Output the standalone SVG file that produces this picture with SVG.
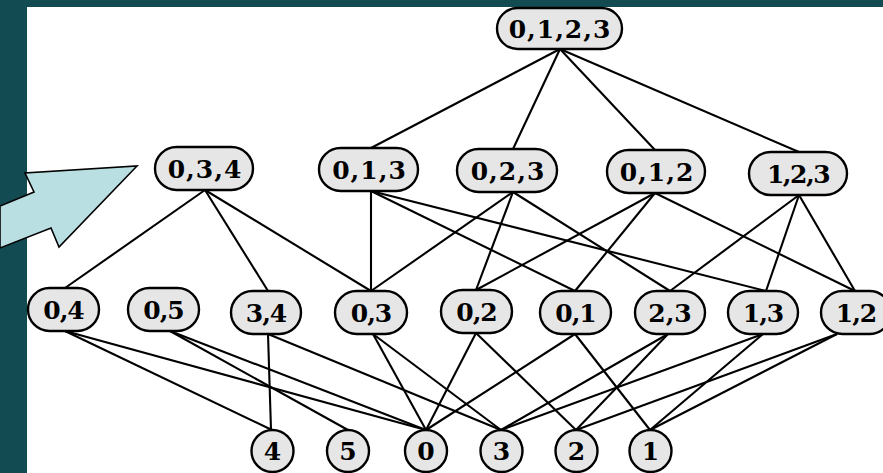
<svg xmlns="http://www.w3.org/2000/svg" width="883" height="473" viewBox="0 0 883 473">
<style>
.bg{fill:#ffffff}
.frame{fill:#134b52}
.arrow{fill:#b9dfe3;stroke:#000;stroke-width:1.6;stroke-linejoin:miter}
.edge{stroke:#000;stroke-width:2.1;fill:none}
.box{fill:#e6e6e6;stroke:#000;stroke-width:2.4}
.lbl{font-family:"DejaVu Serif",serif;font-weight:bold;font-size:25px;fill:#000;text-anchor:middle}
.sp{letter-spacing:1px}
.tight{letter-spacing:-1px}
</style>
<rect class="bg" x="0" y="0" width="883" height="473"/>
<rect class="frame" x="0" y="0" width="883" height="7"/>
<rect class="frame" x="0" y="0" width="27" height="473"/>
<polygon class="arrow" points="0,206 34,192 25,173 137,166 59,247 51,228 0,248"/>
<g id="connectors">
<line class="edge" x1="560" y1="49" x2="371" y2="148"/>
<line class="edge" x1="560" y1="49" x2="513" y2="149"/>
<line class="edge" x1="560" y1="49" x2="655" y2="150"/>
<line class="edge" x1="560" y1="49" x2="799" y2="152"/>
<line class="edge" x1="205" y1="190" x2="65" y2="288"/>
<line class="edge" x1="205" y1="190" x2="268" y2="291"/>
<line class="edge" x1="205" y1="190" x2="371" y2="291"/>
<line class="edge" x1="371" y1="191" x2="371" y2="291"/>
<line class="edge" x1="371" y1="191" x2="575" y2="291"/>
<line class="edge" x1="371" y1="191" x2="766" y2="291"/>
<line class="edge" x1="513" y1="192" x2="371" y2="291"/>
<line class="edge" x1="513" y1="192" x2="476" y2="290"/>
<line class="edge" x1="513" y1="192" x2="670" y2="291"/>
<line class="edge" x1="655" y1="193" x2="476" y2="290"/>
<line class="edge" x1="655" y1="193" x2="575" y2="291"/>
<line class="edge" x1="655" y1="193" x2="855" y2="291"/>
<line class="edge" x1="799" y1="195" x2="670" y2="291"/>
<line class="edge" x1="799" y1="195" x2="766" y2="291"/>
<line class="edge" x1="799" y1="195" x2="855" y2="291"/>
<line class="edge" x1="65" y1="331" x2="272" y2="430"/>
<line class="edge" x1="65" y1="331" x2="426" y2="430"/>
<line class="edge" x1="170" y1="331" x2="348" y2="430"/>
<line class="edge" x1="170" y1="331" x2="426" y2="430"/>
<line class="edge" x1="268" y1="334" x2="271" y2="430"/>
<line class="edge" x1="268" y1="334" x2="501" y2="430"/>
<line class="edge" x1="373" y1="334" x2="426" y2="430"/>
<line class="edge" x1="373" y1="334" x2="501" y2="430"/>
<line class="edge" x1="476" y1="333" x2="426" y2="430"/>
<line class="edge" x1="476" y1="333" x2="576" y2="430"/>
<line class="edge" x1="575" y1="334" x2="426" y2="430"/>
<line class="edge" x1="575" y1="334" x2="650" y2="430"/>
<line class="edge" x1="668" y1="334" x2="501" y2="430"/>
<line class="edge" x1="668" y1="334" x2="576" y2="430"/>
<line class="edge" x1="763" y1="334" x2="501" y2="430"/>
<line class="edge" x1="763" y1="334" x2="650" y2="430"/>
<line class="edge" x1="837" y1="334" x2="576" y2="430"/>
<line class="edge" x1="837" y1="334" x2="650" y2="430"/>
</g>
<g id="n0123"><rect class="box" x="497" y="8" width="125" height="41" rx="20.5"/><text class="lbl sp" x="560" y="38">0,1,2,3</text></g>
<g id="n034"><rect class="box" x="155" y="147" width="98" height="43" rx="21.5"/><text class="lbl sp" x="205" y="177.5">0,3,4</text></g>
<g id="n013"><rect class="box" x="319" y="148" width="99" height="43" rx="21.5"/><text class="lbl sp" x="369.5" y="178.5">0,1,3</text></g>
<g id="n023"><rect class="box" x="457" y="149" width="100" height="43" rx="21.5"/><text class="lbl sp" x="508" y="179.5">0,2,3</text></g>
<g id="n012"><rect class="box" x="607" y="150" width="98" height="43" rx="21.5"/><text class="lbl sp" x="657" y="180.5">0,1,2</text></g>
<g id="n123"><rect class="box" x="749" y="152" width="98" height="43" rx="21.5"/><text class="lbl" x="798" y="182.5" style="letter-spacing:-1.5px">1,2,3</text></g>
<g id="n04"><rect class="box" x="28" y="288" width="71" height="43" rx="21.5"/><text class="lbl tight" x="63.5" y="318.5">0,4</text></g>
<g id="n05"><rect class="box" x="128" y="288" width="71" height="43" rx="21.5"/><text class="lbl tight" x="163.5" y="318.5">0,5</text></g>
<g id="n34"><rect class="box" x="231" y="291" width="70" height="43" rx="21.5"/><text class="lbl tight" x="266" y="321.5">3,4</text></g>
<g id="n03"><rect class="box" x="335" y="291" width="72" height="43" rx="21.5"/><text class="lbl tight" x="371" y="321.5">0,3</text></g>
<g id="n02"><rect class="box" x="441" y="290" width="71" height="43" rx="21.5"/><text class="lbl tight" x="476.5" y="320.5">0,2</text></g>
<g id="n01"><rect class="box" x="540" y="291" width="71" height="43" rx="21.5"/><text class="lbl tight" x="575.5" y="321.5">0,1</text></g>
<g id="n23"><rect class="box" x="635" y="291" width="70" height="43" rx="21.5"/><text class="lbl" x="670" y="321.5">2,3</text></g>
<g id="n13"><rect class="box" x="728" y="291" width="70" height="43" rx="21.5"/><text class="lbl tight" x="763" y="321.5">1,3</text></g>
<g id="n12"><rect class="box" x="821" y="291" width="70" height="43" rx="21.5"/><text class="lbl tight" x="856" y="321.5">1,2</text></g>
<g id="c4"><circle class="box" cx="272.5" cy="451" r="21"/><text class="lbl" x="272.5" y="460">4</text></g>
<g id="c5"><circle class="box" cx="348" cy="451" r="21"/><text class="lbl" x="348" y="460">5</text></g>
<g id="c0"><circle class="box" cx="426" cy="451" r="21"/><text class="lbl" x="426" y="460">0</text></g>
<g id="c3"><circle class="box" cx="501.5" cy="451" r="21"/><text class="lbl" x="501.5" y="460">3</text></g>
<g id="c2"><circle class="box" cx="576.5" cy="451" r="21"/><text class="lbl" x="576.5" y="460">2</text></g>
<g id="c1"><circle class="box" cx="650.5" cy="451" r="21"/><text class="lbl" x="650.5" y="460">1</text></g>
</svg>
